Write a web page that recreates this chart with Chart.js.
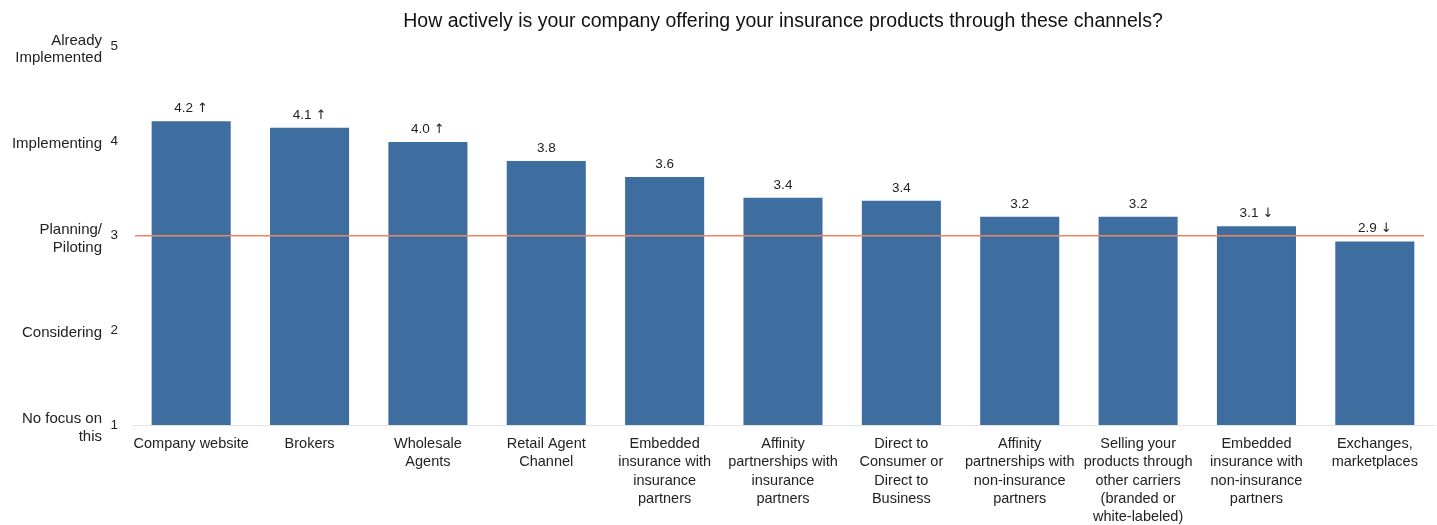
<!DOCTYPE html>
<html>
<head>
<meta charset="utf-8">
<script src="https://cdn.jsdelivr.net/npm/chart.js@4.4.1/dist/chart.umd.min.js"></script>
<style>
  html, body { margin: 0; padding: 0; background: #fff; }
  #wrap { width: 1437px; height: 525px; }
</style>
</head>
<body>
<div id="wrap"><canvas id="chart"></canvas></div>
<script>
const categories = [
  'Company website',
  'Brokers',
  ['Wholesale', 'Agents'],
  ['Retail Agent', 'Channel'],
  ['Embedded', 'insurance with', 'insurance', 'partners'],
  ['Affinity', 'partnerships with', 'insurance', 'partners'],
  ['Direct to', 'Consumer or', 'Direct to', 'Business'],
  ['Affinity', 'partnerships with', 'non-insurance', 'partners'],
  ['Selling your', 'products through', 'other carriers', '(branded or', 'white-labeled)'],
  ['Embedded', 'insurance with', 'non-insurance', 'partners'],
  ['Exchanges,', 'marketplaces']
];
const scores = [4.21, 4.14, 3.99, 3.79, 3.62, 3.40, 3.37, 3.20, 3.20, 3.10, 2.94];
const scoreLabels = ['4.2', '4.1', '4.0', '3.8', '3.6', '3.4', '3.4', '3.2', '3.2', '3.1', '2.9'];
const trend = ['up', 'up', 'up', '', '', '', '', '', '', 'down', 'down'];
const levelValues = [5, 4, 3, 2, 1];
const levelNames = [
  ['Already', 'Implemented'],
  ['Implementing'],
  ['Planning/', 'Piloting'],
  ['Considering'],
  ['No focus on', 'this']
];
const referenceLine = 3;

const FONT = "'Liberation Sans', Arial, sans-serif";

// bar value labels with trend arrows
const valueLabels = {
  id: 'valueLabels',
  afterDatasetsDraw(chart) {
    const ctx = chart.ctx;
    const meta = chart.getDatasetMeta(0);
    ctx.save();
    ctx.fillStyle = '#222';
    ctx.textBaseline = 'bottom';
    meta.data.forEach((bar, i) => {
      const num = scoreLabels[i];
      const arrow = trend[i] === 'up' ? '\u2191' : trend[i] === 'down' ? '\u2193' : '';
      ctx.font = '13.5px ' + FONT;
      const wNum = ctx.measureText(num).width;
      ctx.font = "13px 'DejaVu Sans'";
      const wArr = arrow ? ctx.measureText(arrow).width + 4 : 0;
      let x = bar.x - (wNum + wArr) / 2;
      ctx.textAlign = 'left';
      ctx.font = '13.5px ' + FONT;
      ctx.fillText(num, x, bar.y - 6);
      if (arrow) {
        ctx.font = "13px 'DejaVu Sans'";
        ctx.fillText(arrow, x + wNum + 4, bar.y - 6);
      }
    });
    ctx.restore();
  }
};

// orange reference line at "Planning/Piloting"
const refLine = {
  id: 'refLine',
  afterDatasetsDraw(chart) {
    const ctx = chart.ctx;
    const y = chart.scales.y.getPixelForValue(referenceLine);
    const a = chart.chartArea;
    ctx.save();
    ctx.strokeStyle = '#ee8560';
    ctx.lineWidth = 1.5;
    ctx.beginPath();
    ctx.moveTo(a.left + 3, y);
    ctx.lineTo(a.right - 10, y);
    ctx.stroke();
    ctx.restore();
  }
};

// word labels next to the y-axis numbers
const levelText = {
  id: 'levelText',
  afterDraw(chart) {
    const ctx = chart.ctx;
    const ys = chart.scales.y;
    ctx.save();
    ctx.font = '15px ' + FONT;
    ctx.fillStyle = '#222';
    ctx.textAlign = 'right';
    ctx.textBaseline = 'middle';
    const lh = 17.5;
    levelValues.forEach((v, i) => {
      const lines = levelNames[i];
      const cy = ys.getPixelForValue(v) + 3;
      const top = cy - (lines.length - 1) * lh / 2;
      lines.forEach((ln, j) => ctx.fillText(ln, 102, top + j * lh));
    });
    ctx.restore();
  }
};

new Chart(document.getElementById('chart'), {
  type: 'bar',
  data: {
    labels: categories,
    datasets: [{
      data: scores,
      backgroundColor: '#3d6e9f',
      barPercentage: 0.668,
      categoryPercentage: 1.0
    }]
  },
  options: {
    responsive: true,
    maintainAspectRatio: false,
    animation: false,
    layout: { padding: { top: 0, right: 3, bottom: 0, left: 0 } },
    plugins: {
      legend: { display: false },
      tooltip: { enabled: false },
      title: {
        display: true,
        fullSize: false,
        text: 'How actively is your company offering your insurance products through these channels?',
        color: '#111',
        font: { family: FONT, size: 19.5, weight: 'normal' },
        padding: { top: 10, bottom: 13 }
      }
    },
    scales: {
      x: {
        afterFit(scale) { scale.height = 100; },
        grid: { display: false, drawTicks: false },
        border: { display: true, color: '#e4e4e4', width: 1 },
        ticks: {
          color: '#222',
          font: { family: FONT, size: 14.5, lineHeight: 1.26 },
          maxRotation: 0,
          autoSkip: false,
          padding: 10
        }
      },
      y: {
        min: 1,
        max: 5,
        afterFit(scale) { scale.width = 132; },
        grid: { display: false, drawTicks: false },
        border: { display: false },
        ticks: {
          stepSize: 1,
          color: '#222',
          font: { family: FONT, size: 13.5 },
          padding: 14
        }
      }
    }
  },
  plugins: [valueLabels, refLine, levelText]
});
</script>
</body>
</html>
